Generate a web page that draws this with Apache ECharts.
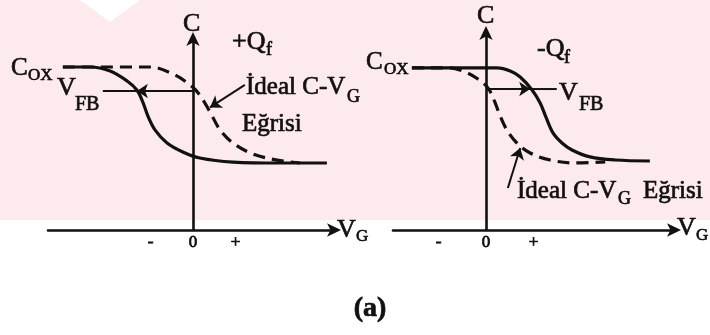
<!DOCTYPE html>
<html>
<head>
<meta charset="utf-8">
<script src="https://cdn.jsdelivr.net/npm/echarts@6/dist/echarts.min.js"></script>
<style>
  html, body { margin: 0; padding: 0; background: #ffffff; }
  #chart { width: 710px; height: 335px; }
</style>
</head>
<body>
<div id="chart"></div>
<script>
// Capacitance is normalised to C_ox; gate voltage in arbitrary units (0 = origin).

// Left panel: +Q_f shifts the measured curve to negative V_G
const leftMeasuredV = [-3.06, -2.42, -1.95, -1.55, -1.32, -1.18, -1.06, -0.89, -0.61, -0.24, 0.16, 0.94, 2.05, 3.15];
const leftMeasuredC = [1.0, 1.0, 0.975, 0.914, 0.859, 0.785, 0.699, 0.613, 0.534, 0.479, 0.442, 0.417, 0.411, 0.411];
const leftIdealV = [-3.06, -1.01, -0.47, -0.07, 0.16, 0.40, 0.64, 0.94, 1.41, 1.98, 2.52];
const leftIdealC = [1.0, 1.0, 0.957, 0.890, 0.828, 0.724, 0.613, 0.534, 0.466, 0.429, 0.411];
const leftFlatBandC = 0.853;
const leftFlatBandV = -1.32;
const leftFlatBandLineEnd = -2.12;
const leftPointer = [[1.22, 0.890], [0.40, 0.752]];

// Right panel: -Q_f shifts the measured curve to positive V_G
const rightMeasuredV = [-1.56, 0.23, 0.51, 0.72, 0.97, 1.14, 1.26, 1.41, 1.60, 1.81, 2.19, 2.72, 3.45];
const rightMeasuredC = [1.0, 1.0, 0.981, 0.944, 0.864, 0.784, 0.698, 0.599, 0.537, 0.494, 0.451, 0.432, 0.426];
const rightIdealV = [-1.56, -0.76, -0.44, -0.17, 0.04, 0.17, 0.29, 0.44, 0.65, 0.93, 1.35, 1.87, 2.51];
const rightIdealC = [1.0, 1.0, 0.975, 0.932, 0.877, 0.802, 0.710, 0.617, 0.537, 0.475, 0.432, 0.414, 0.420];
const rightFlatBandC = 0.870;
const rightFlatBandV = 0.93;
const rightFlatBandLineEnd = 1.49;
const rightPointer = [[0.46, 0.259], [0.72, 0.506]];

// Gate-voltage tick labels
const tickValues = [-1, 0, 1];
const tickLabels = ['-', '0', '+'];

const zip = (xs, ys) => xs.map((x, i) => [x, ys[i]]);
const INK = '#111111';
const SERIF = '"Liberation Serif", "DejaVu Serif", serif';

function valueAxisX(gridIndex, min, max) {
  return {
    type: 'value', gridIndex, min, max,
    splitLine: { show: false },
    axisTick: { show: false },
    axisLine: {
      show: true, onZero: false,
      symbol: ['none', 'arrow'], symbolSize: [10, 14], symbolOffset: [0, 6],
      lineStyle: { color: INK, width: 2.6 }
    },
    axisLabel: {
      customValues: tickValues,
      formatter: v => tickLabels[tickValues.indexOf(v)] ?? '',
      color: INK, fontFamily: SERIF, fontSize: 17, margin: 4,
      textBorderColor: INK, textBorderWidth: 0.8
    }
  };
}
function valueAxisY(gridIndex, max) {
  return {
    type: 'value', gridIndex, min: 0, max,
    splitLine: { show: false },
    axisTick: { show: false },
    axisLabel: { show: false },
    axisLine: {
      show: true, onZero: true,
      symbol: ['none', 'arrow'], symbolSize: [10, 14], symbolOffset: [0, 6],
      lineStyle: { color: INK, width: 2.6 }
    }
  };
}

function curve(idx, data, dashed) {
  return {
    type: 'line', xAxisIndex: idx, yAxisIndex: idx, data,
    smooth: 0.35, showSymbol: false, silent: true, z: 3,
    lineStyle: { color: INK, width: 3.2, type: dashed ? [12, 7] : 'solid', cap: 'butt' }
  };
}
function arrow(idx, from, to) {
  return {
    type: 'lines', coordinateSystem: 'cartesian2d', xAxisIndex: idx, yAxisIndex: idx,
    symbol: ['none', 'arrow'], symbolSize: 11, silent: true, z: 4,
    lineStyle: { color: INK, width: 2, opacity: 1 },
    data: [{ coords: [from, to] }]
  };
}
function plain(idx, from, to) {
  return {
    type: 'line', xAxisIndex: idx, yAxisIndex: idx, data: [from, to],
    showSymbol: false, silent: true, z: 4,
    lineStyle: { color: INK, width: 2 }
  };
}

// Text helper: main glyphs and subscripts are separate text elements
function txt(x, y, text, size, align, weight) {
  return {
    type: 'text', x, y, z: 10, silent: true,
    style: { text, fontFamily: SERIF, fontSize: size, fontWeight: weight || 'normal', fill: INK,
             stroke: INK, lineWidth: 0.7,
             textAlign: align || 'left', textVerticalAlign: 'middle' }
  };
}

// Light pink backdrop behind the upper part of the figure
const backdrop = [
  { type: 'rect', shape: { x: 0, y: 0, width: 710, height: 220 }, style: { fill: '#fdeaed' }, z: -10, silent: true },
  { type: 'polygon', shape: { points: [[80, 0], [140, 0], [110, 22]] }, style: { fill: '#ffffff' }, z: -9, silent: true }
];

const labels = [
  // left panel
  txt(183, 24, 'C', 26),
  txt(232, 42, '+Q', 26), txt(266, 50, 'f', 18),
  txt(11, 68, 'C', 25), txt(28, 76, 'OX', 17),
  txt(57, 88, 'V', 26), txt(75, 105, 'FB', 20),
  txt(246, 87, 'İdeal C-V', 25), txt(347, 97, 'G', 18),
  txt(242, 124, 'Eğrisi', 25),
  txt(337, 230, 'V', 26), txt(356, 237, 'G', 17),
  // right panel
  txt(477, 16, 'C', 26),
  txt(537, 49, '-Q', 26), txt(564, 58, 'f', 18),
  txt(366, 62, 'C', 25), txt(384, 70, 'OX', 17),
  txt(559, 93, 'V', 26), txt(579, 105, 'FB', 20),
  txt(517, 191, 'İdeal C-V', 25), txt(618, 199, 'G', 18), txt(643, 191, 'Eğrisi', 25),
  txt(677, 228, 'V', 26), txt(696, 236, 'G', 17),
  // caption
  txt(370, 309, '(a)', 28, 'center', 'bold')
];

const chart = echarts.init(document.getElementById('chart'), null, { renderer: 'canvas' });
chart.setOption({
  animation: false,
  backgroundColor: '#ffffff',
  grid: [
    { left: 48, top: 38, width: 287, height: 192 },
    { left: 393, top: 32, width: 282, height: 198 }
  ],
  xAxis: [valueAxisX(0, -3.41, 3.34), valueAxisX(1, -1.958, 3.979)],
  yAxis: [valueAxisY(0, 1.178), valueAxisY(1, 1.222)],
  series: [
    curve(0, zip(leftMeasuredV, leftMeasuredC), false),
    curve(0, zip(leftIdealV, leftIdealC), true),
    arrow(0, [0, leftFlatBandC], [leftFlatBandV, leftFlatBandC]),
    plain(0, [leftFlatBandV, leftFlatBandC], [leftFlatBandLineEnd, leftFlatBandC]),
    arrow(0, leftPointer[0], leftPointer[1]),
    curve(1, zip(rightMeasuredV, rightMeasuredC), false),
    curve(1, zip(rightIdealV, rightIdealC), true),
    arrow(1, [0, rightFlatBandC], [rightFlatBandV, rightFlatBandC]),
    plain(1, [rightFlatBandV, rightFlatBandC], [rightFlatBandLineEnd, rightFlatBandC]),
    arrow(1, rightPointer[0], rightPointer[1])
  ],
  graphic: backdrop.concat(labels)
});
</script>
</body>
</html>
